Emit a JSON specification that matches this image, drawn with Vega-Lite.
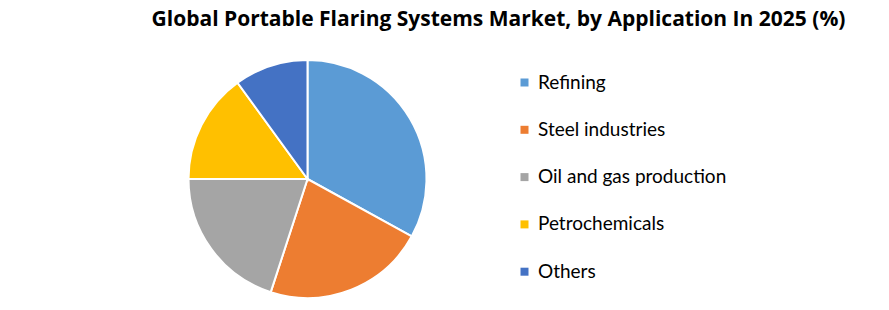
{
  "$schema": "https://vega.github.io/schema/vega-lite/v6.json",
  "width": 889,
  "height": 310,
  "autosize": {"type": "fit", "contains": "padding"},
  "padding": {"top": 9, "left": 0, "right": 0, "bottom": 0},
  "background": "white",
  "title": {
    "text": "Global Portable Flaring Systems Market, by Application In 2025 (%)",
    "orient": "top",
    "anchor": "middle",
    "offset": 5,
    "baseline": "alphabetic",
    "dx": 54,
    "font": "Open Sans",
    "fontSize": 21,
    "fontWeight": "bold",
    "color": "#000000"
  },
  "data": {
    "values": [
      {"application": "Refining", "share": 33, "order": 1},
      {"application": "Steel industries", "share": 22, "order": 2},
      {"application": "Oil and gas production", "share": 20, "order": 3},
      {"application": "Petrochemicals", "share": 15, "order": 4},
      {"application": "Others", "share": 10, "order": 5}
    ]
  },
  "mark": {"type": "arc", "outerRadius": 119, "x": 307.5, "y": 127, "stroke": "white", "strokeWidth": 2},
  "encoding": {
    "theta": {"field": "share", "type": "quantitative", "stack": true},
    "order": {"field": "order", "type": "quantitative"},
    "color": {
      "field": "application",
      "type": "nominal",
      "scale": {
        "domain": ["Refining", "Steel industries", "Oil and gas production", "Petrochemicals", "Others"],
        "range": ["#5B9BD5", "#ED7D31", "#A5A5A5", "#FFC000", "#4472C4"]
      },
      "legend": {
        "orient": "none",
        "legendX": 515,
        "legendY": 21,
        "title": null,
        "symbolType": "square",
        "symbolSize": 64,
        "symbolStrokeWidth": 0,
        "labelFont": "Lato",
        "labelFontSize": 19,
        "labelColor": "#000000",
        "labelOffset": 4,
        "rowPadding": 27.3,
        "labelLimit": 400
      }
    }
  },
  "config": {"view": {"stroke": null}}
}
